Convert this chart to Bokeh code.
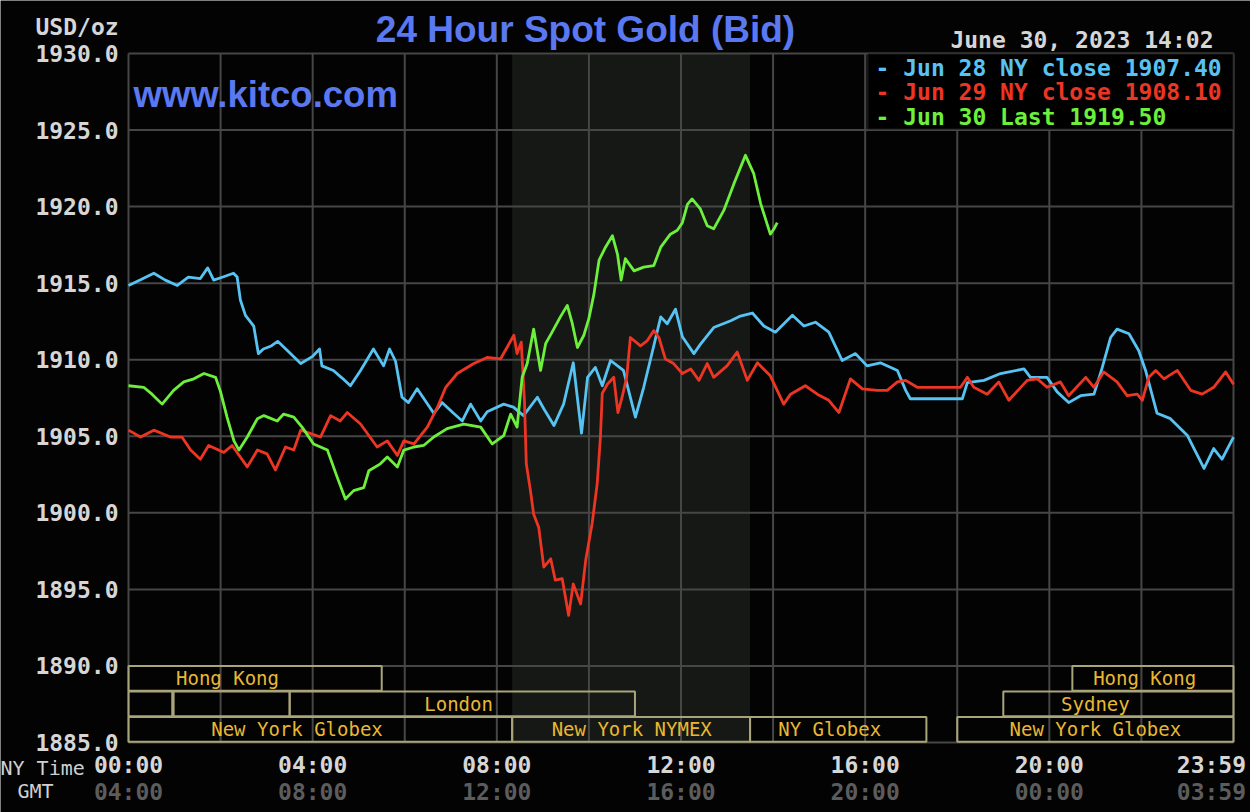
from bokeh.plotting import figure
from bokeh.models import (FixedTicker, PrintfTickFormatter, LinearAxis, Label,
                          BoxAnnotation, Range1d, CustomJSTickFormatter)
from bokeh.core.properties import value
from bokeh.embed import file_html
from bokeh.resources import INLINE

# ---------------- data (hours NY time, USD/oz) ----------------
jun28_t = [0, 0.25, 0.55, 0.8, 1.06, 1.3, 1.56, 1.72, 1.85, 2.05, 2.28, 2.36, 2.43, 2.54, 2.72, 2.82,
           2.93, 3.1, 3.24, 3.45, 3.74, 3.99, 4.15, 4.2, 4.45, 4.64, 4.82, 5.04, 5.32, 5.54, 5.67, 5.8,
           5.94, 6.08, 6.27, 6.45, 6.63, 6.81, 7.06, 7.25, 7.43, 7.65, 7.79, 8.15, 8.36, 8.58, 8.88,
           9.02, 9.24, 9.45, 9.66, 9.84, 9.97, 10.14, 10.29, 10.47, 10.75, 11.01, 11.19, 11.4, 11.56,
           11.7, 11.88, 12.03, 12.28, 12.42, 12.71, 13.08, 13.29, 13.55, 13.8, 14.05, 14.42, 14.67,
           14.92, 15.21, 15.5, 15.79, 16.04, 16.33, 16.7, 16.88, 16.98, 18.11, 18.22, 18.58, 18.94,
           19.45, 19.59, 19.95, 20.17, 20.42, 20.68, 20.97, 21.15, 21.33, 21.47, 21.73, 21.94, 22.09,
           22.34, 22.63, 23.0, 23.36, 23.57, 23.75, 24.0]
jun28_p = [1914.85, 1915.2, 1915.65, 1915.2, 1914.85, 1915.4, 1915.3, 1916.0, 1915.2, 1915.4, 1915.65,
           1915.4, 1913.9, 1912.9, 1912.2, 1910.4, 1910.7, 1910.9, 1911.2, 1910.6, 1909.75, 1910.2,
           1910.7, 1909.6, 1909.3, 1908.8, 1908.3, 1909.3, 1910.7, 1909.6, 1910.7, 1909.9, 1907.55,
           1907.2, 1908.1, 1907.3, 1906.5, 1907.2, 1906.5, 1906.0, 1907.1, 1906.0, 1906.6, 1907.1,
           1906.9, 1906.35, 1907.55, 1906.8, 1905.7, 1907.1, 1909.8, 1905.2, 1908.85, 1909.5, 1908.3,
           1909.95, 1909.3, 1906.25, 1908.2, 1910.8, 1912.8, 1912.35, 1913.3, 1911.5, 1910.4, 1911.0,
           1912.1, 1912.55, 1912.85, 1913.05, 1912.2, 1911.8, 1912.9, 1912.2, 1912.45, 1911.8, 1909.95,
           1910.4, 1909.6, 1909.8, 1909.3, 1908.0, 1907.45, 1907.45, 1908.5, 1908.65, 1909.1, 1909.4,
           1908.85, 1908.85, 1907.9, 1907.2, 1907.65, 1907.75, 1909.5, 1911.45, 1912.0, 1911.7, 1910.6,
           1909.3, 1906.5, 1906.15, 1905.05, 1902.9, 1904.2, 1903.5, 1904.95]

jun29_t = [0, 0.26, 0.55, 0.91, 1.16, 1.35, 1.56, 1.74, 2.07, 2.25, 2.58, 2.8, 3.01, 3.19, 3.41, 3.59,
           3.74, 4.17, 4.39, 4.6, 4.75, 5.04, 5.4, 5.62, 5.84, 5.98, 6.2, 6.49, 6.71, 6.89, 7.14, 7.5,
           7.79, 8.08, 8.37, 8.44, 8.53, 8.6, 8.64, 8.73, 8.8, 8.91, 9.02, 9.17, 9.27, 9.42, 9.56, 9.66,
           9.82, 9.93, 10.07, 10.18, 10.25, 10.29, 10.4, 10.54, 10.63, 10.72, 10.82, 10.9, 11.12, 11.27,
           11.41, 11.52, 11.66, 11.84, 12.03, 12.21, 12.39, 12.57, 12.71, 13.0, 13.22, 13.44, 13.66,
           13.94, 14.23, 14.38, 14.7, 14.96, 15.21, 15.43, 15.68, 15.94, 16.26, 16.48, 16.7, 16.88,
           17.13, 18.07, 18.22, 18.36, 18.65, 18.9, 19.12, 19.52, 19.74, 19.95, 20.24, 20.42, 20.79,
           20.97, 21.18, 21.47, 21.69, 21.91, 22.02, 22.16, 22.31, 22.49, 22.78, 23.07, 23.32, 23.57,
           23.83, 24.0]
jun29_p = [1905.4, 1904.95, 1905.4, 1904.95, 1904.95, 1904.1, 1903.5, 1904.4, 1903.95, 1904.4, 1903.0,
           1904.1, 1903.85, 1902.8, 1904.3, 1904.1, 1905.4, 1904.95, 1906.35, 1906.0, 1906.55, 1905.8,
           1904.3, 1904.7, 1903.75, 1904.7, 1904.5, 1905.6, 1906.9, 1908.2, 1909.1, 1909.75, 1910.15,
           1910.05, 1911.6, 1910.4, 1911.15, 1907.3, 1903.2, 1901.45, 1899.9, 1899.05, 1896.45, 1897.0,
           1895.6, 1895.7, 1893.3, 1895.35, 1894.05, 1896.9, 1899.3, 1901.9, 1904.95, 1907.8, 1908.4,
           1908.85, 1906.55, 1907.55, 1908.85, 1911.45, 1910.9, 1911.25, 1911.9, 1911.45, 1910.05,
           1909.75, 1909.1, 1909.4, 1908.65, 1909.75, 1908.85, 1909.6, 1910.5, 1908.65, 1909.8, 1908.95,
           1907.1, 1907.75, 1908.3, 1907.75, 1907.35, 1906.55, 1908.75, 1908.1, 1908.0, 1908.0, 1908.55,
           1908.65, 1908.2, 1908.2, 1908.85, 1908.2, 1907.75, 1908.55, 1907.35, 1908.65, 1908.75,
           1908.2, 1908.55, 1907.65, 1908.85, 1908.2, 1909.2, 1908.55, 1907.65, 1907.75, 1907.35,
           1908.85, 1909.3, 1908.75, 1909.3, 1908.0, 1907.75, 1908.2, 1909.2, 1908.4]

jun30_t = [0, 0.33, 0.51, 0.73, 0.98, 1.2, 1.42, 1.64, 1.89, 2.0, 2.14, 2.29, 2.4, 2.58, 2.8, 2.94,
           3.23, 3.37, 3.59, 3.77, 4.02, 4.32, 4.53, 4.71, 4.89, 5.11, 5.22, 5.47, 5.62, 5.84, 5.98,
           6.2, 6.41, 6.63, 6.92, 7.28, 7.65, 7.9, 8.15, 8.3, 8.44, 8.55, 8.66, 8.8, 8.95, 9.06, 9.2,
           9.38, 9.53, 9.64, 9.75, 9.89, 10.0, 10.11, 10.22, 10.36, 10.51, 10.62, 10.7, 10.79, 10.98,
           11.19, 11.41, 11.56, 11.77, 11.92, 12.03, 12.14, 12.24, 12.42, 12.57, 12.71, 12.93, 13.15,
           13.4, 13.58, 13.73, 13.94, 14.02, 14.09]
jun30_p = [1908.3, 1908.2, 1907.75, 1907.1, 1908.0, 1908.55, 1908.75, 1909.1, 1908.85, 1907.9, 1906.25,
           1904.7, 1904.1, 1904.95, 1906.15, 1906.35, 1906.0, 1906.45, 1906.25, 1905.6, 1904.5, 1904.1,
           1902.35, 1900.9, 1901.45, 1901.65, 1902.75, 1903.2, 1903.65, 1903.0, 1904.1, 1904.3, 1904.4,
           1904.95, 1905.5, 1905.8, 1905.6, 1904.5, 1905.05, 1906.45, 1905.6, 1908.85, 1909.75, 1912.0,
           1909.3, 1911.05, 1911.8, 1912.8, 1913.55, 1912.35, 1910.8, 1911.6, 1912.7, 1914.3, 1916.5,
           1917.35, 1918.1, 1916.9, 1915.2, 1916.6, 1915.8, 1916.05, 1916.15, 1917.35, 1918.2, 1918.45,
           1918.95, 1920.15, 1920.5, 1919.85, 1918.75, 1918.55, 1919.75, 1921.5, 1923.35, 1922.15,
           1920.2, 1918.2, 1918.55, 1918.95]

legend_names = ["Jun 28 NY close", "Jun 29 NY close", "Jun 30 Last"]
legend_values = [1907.40, 1908.10, 1919.50]

y_ticks = [1885, 1890, 1895, 1900, 1905, 1910, 1915, 1920, 1925, 1930]
x_label_ticks = [0, 4, 8, 12, 16, 20, 23.52]
ny_labels = ["00:00", "04:00", "08:00", "12:00", "16:00", "20:00", "23:59"]
gmt_labels = ["04:00", "08:00", "12:00", "16:00", "20:00", "00:00", "03:59"]
x_grid_ticks = [0, 2, 4, 6, 8, 10, 12, 14, 16, 18, 20, 22, 24]

nymex_open, nymex_close = 8.333, 13.5

session_names = ["Hong Kong", "Hong Kong", "", "", "London", "Sydney",
                 "New York Globex", "New York NYMEX", "NY Globex", "New York Globex"]
session_row = [0, 0, 1, 1, 1, 1, 2, 2, 2, 2]
session_start = [0, 20.5, 0, 0.98, 3.5, 19.0, 0, 8.333, 13.5, 18.0]
session_end = [5.5, 24, 0.95, 3.5, 11.0, 24, 8.333, 13.5, 17.33, 24]
session_label_t = [2.15, 22.07, None, None, 7.17, 21.0, 3.66, 10.93, 15.23, 21.0]

date_text = "June 30, 2023 14:02"

# ---------------- geometry ----------------
W, H = 1250, 812
PL, PR, PT, PB = 128, 1233, 53, 742          # plot area in pixels
T0, T1, P0, P1 = 0, 24, 1885, 1930            # plot area in data units
kx = (PR - PL) / (T1 - T0)
ky = (PB - PT) / (P1 - P0)
x_range = Range1d(T0 - PL / kx, T1 + (W - PR) / kx)
y_range = Range1d(P0 - (H - PB) / ky, P1 + PT / ky)

# ---------------- styling ----------------
BG = "#030303"
BLUE, RED, GREEN = "#56c3f3", "#ec3523", "#6df03c"
TITLE_BLUE = "#5a78f0"
MONO = "DejaVu Sans Mono"
GRID = "#464646"
FS = "23px"

p = figure(width=W, height=H, x_range=x_range, y_range=y_range,
           output_backend="svg", toolbar_location=None,
           min_border_left=0, min_border_right=0, min_border_top=0, min_border_bottom=0,
           background_fill_color=BG, border_fill_color=BG, outline_line_color=None)
p.xgrid.visible = False
p.ygrid.visible = False

# NYMEX shaded session
p.add_layout(BoxAnnotation(left=nymex_open, right=nymex_close, bottom=P0, top=P1,
                           fill_color="#151815", fill_alpha=1, line_alpha=0, level="image"))

# grid lines (limited to plot area)
vg = p.segment(x0=x_grid_ticks, x1=x_grid_ticks, y0=[P0] * len(x_grid_ticks),
               y1=[P1] * len(x_grid_ticks), line_color=GRID, line_width=2)
hg = p.segment(x0=[T0] * len(y_ticks), x1=[T1] * len(y_ticks), y0=y_ticks, y1=y_ticks,
               line_color=GRID, line_width=2)
vg.level = "underlay"
hg.level = "underlay"

# axes (fixed at the plot-area edges)
ya = p.yaxis[0]
ya.fixed_location = T0
ya.ticker = FixedTicker(ticks=y_ticks)
ya.formatter = PrintfTickFormatter(format="%.1f")

xa = p.xaxis[0]
xa.fixed_location = P0
xa.ticker = FixedTicker(ticks=x_label_ticks)
xa.formatter = CustomJSTickFormatter(args=dict(labels=ny_labels), code="return labels[index];")

gmt_axis = LinearAxis(fixed_location=P0, ticker=FixedTicker(ticks=x_label_ticks),
                      formatter=CustomJSTickFormatter(args=dict(labels=gmt_labels),
                                                      code="return labels[index];"))
p.add_layout(gmt_axis, "below")

for ax in (ya, xa, gmt_axis):
    ax.axis_line_color = None
    ax.major_tick_line_color = None
    ax.minor_tick_line_color = None
    ax.major_tick_out = 0
    ax.major_tick_in = 0
    ax.major_label_text_font = MONO
    ax.major_label_text_font_style = "bold"
    ax.major_label_text_font_size = FS
    ax.major_label_text_color = "#d6d6d6"
ya.major_label_standoff = 10
xa.major_label_standoff = 9
gmt_axis.major_label_standoff = 36
gmt_axis.major_label_text_color = "#5c5c5c"

# session boxes
row_h = 5 / 3
tops = [P0 + 5 - r * row_h for r in session_row]
bottoms = [t - row_h + 0.05 for t in tops]
p.quad(left=session_start, right=session_end, top=tops, bottom=bottoms,
       fill_alpha=0, line_color="#a9a47a", line_width=2)
lab_x = [x for x, n in zip(session_label_t, session_names) if n]
lab_y = [(t + b) / 2 for t, b, n in zip(tops, bottoms, session_names) if n]
lab_t = [n for n in session_names if n]
p.text(x=lab_x, y=lab_y, text=lab_t, text_font=value(MONO), text_font_size="19px",
       text_color="#e8b832", text_align="center", text_baseline="middle")

# price lines
p.line(jun28_t, jun28_p, line_color=BLUE, line_width=2.8, line_join="round")
p.line(jun29_t, jun29_p, line_color=RED, line_width=2.8, line_join="round")
p.line(jun30_t, jun30_p, line_color=GREEN, line_width=2.8, line_join="round")

# legend box
p.add_layout(BoxAnnotation(left=T0 + (867 - PL) / kx, right=T1, top=P1, bottom=P1 - (129 - PT) / ky,
                           fill_color="#000000", fill_alpha=1, line_color="#505050", line_width=2))
for i, (nm, v, c) in enumerate(zip(legend_names, legend_values, [BLUE, RED, GREEN])):
    p.add_layout(Label(x=T1, y=P1, x_offset=-358, y_offset=-14 - 24.5 * i,
                       text=f"- {nm} {v:.2f}", text_font=MONO, text_font_style="bold",
                       text_font_size=FS, text_color=c, text_align="left",
                       text_baseline="middle"))

# texts
def add_text(x, y, dx, dy, text, font, size, color, align, style="normal"):
    p.add_layout(Label(x=x, y=y, x_offset=dx, y_offset=dy, text=text, text_font=font,
                       text_font_style=style, text_font_size=size, text_color=color,
                       text_align=align, text_baseline="middle"))

add_text(T0, P1, 457, 24, "24 Hour Spot Gold (Bid)", "Liberation Sans", "37px", TITLE_BLUE,
         "center", "bold")
add_text(T0, P1, 5, -41, "www.kitco.com", "Liberation Sans", "36.5px", TITLE_BLUE, "left", "bold")
add_text(T0, P1, -93, 27, "USD/oz", MONO, FS, "#d6d6d6", "left", "bold")
add_text(T1, P1, -20, 14, date_text, MONO, FS, "#d6d6d6", "right", "bold")
add_text(T0, P0, -128, -25, "NY Time", MONO, "20px", "#d0d0d0", "left")
add_text(T0, P0, -111, -48, "GMT", MONO, "20px", "#d0d0d0", "left")

open("out.html", "w").write(file_html(p, INLINE))
